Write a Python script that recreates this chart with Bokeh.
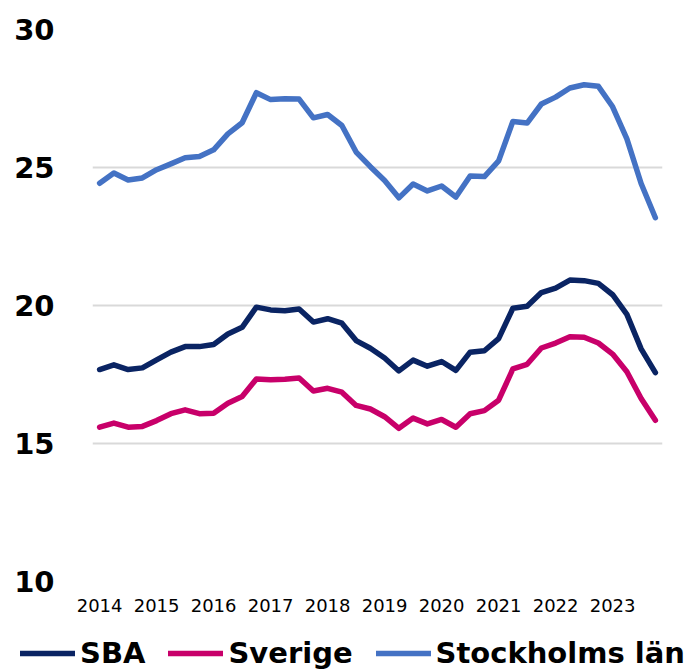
from bokeh.plotting import figure
from bokeh.models import Range1d, FixedTicker, Legend, LegendItem
from bokeh.embed import file_html
from bokeh.resources import INLINE

years = ["2014", "2015", "2016", "2017", "2018", "2019", "2020", "2021", "2022", "2023"]
quarter_index = list(range(40))

sba = [17.68, 17.85, 17.68, 17.74, 18.03, 18.31, 18.51, 18.51, 18.59, 18.97,
       19.21, 19.94, 19.84, 19.81, 19.87, 19.40, 19.52, 19.36, 18.73, 18.45,
       18.10, 17.63, 18.02, 17.80, 17.97, 17.65, 18.31, 18.36, 18.80, 19.90,
       19.97, 20.47, 20.63, 20.92, 20.90, 20.80, 20.39, 19.68, 18.43, 17.57]

sverige = [15.59, 15.74, 15.59, 15.62, 15.83, 16.08, 16.22, 16.08, 16.10, 16.46,
           16.70, 17.34, 17.31, 17.33, 17.37, 16.90, 17.00, 16.86, 16.38, 16.25,
           15.97, 15.55, 15.92, 15.71, 15.87, 15.59, 16.08, 16.19, 16.57, 17.70,
           17.87, 18.46, 18.64, 18.87, 18.85, 18.64, 18.24, 17.60, 16.63, 15.84]

stockholm = [24.43, 24.80, 24.55, 24.62, 24.92, 25.13, 25.35, 25.40, 25.64, 26.22,
             26.62, 27.71, 27.46, 27.49, 27.48, 26.80, 26.92, 26.52, 25.56, 25.03,
             24.53, 23.90, 24.40, 24.15, 24.33, 23.93, 24.69, 24.67, 25.24, 26.67,
             26.61, 27.30, 27.55, 27.88, 28.00, 27.94, 27.20, 26.04, 24.42, 23.18]

series_names = ["SBA", "Sverige", "Stockholms län"]
series_colors = ["#0A2463", "#C8006A", "#4472C4"]
y_ticks = [10, 15, 20, 25, 30]

p = figure(width=689, height=628, output_backend="svg", toolbar_location=None,
           x_range=Range1d(-0.5, 39.5), y_range=Range1d(10, 30),
           min_border_left=92, min_border_right=27, min_border_top=29, min_border_bottom=47)
p.outline_line_color = None
p.background_fill_color = "white"
p.border_fill_color = "white"

for vals, col in zip([sba, sverige, stockholm], series_colors):
    p.line(quarter_index, vals, line_color=col, line_width=5.5, line_join="round", line_cap="round")

# y axis
p.yaxis.ticker = FixedTicker(ticks=y_ticks)
p.yaxis.axis_line_color = None
p.yaxis.major_tick_line_color = None
p.yaxis.minor_tick_line_color = None
p.yaxis.major_label_text_font = "DejaVu Sans"
p.yaxis.major_label_text_font_style = "bold"
p.yaxis.major_label_text_font_size = "29px"
p.yaxis.major_label_text_color = "black"
p.yaxis.major_label_standoff = 32

# x axis
p.xaxis.ticker = FixedTicker(ticks=[i * 4 for i in range(len(years))])
p.xaxis.major_label_overrides = {i * 4: y for i, y in enumerate(years)}
p.xaxis.axis_line_color = None
p.xaxis.major_tick_line_color = None
p.xaxis.minor_tick_line_color = None
p.xaxis.major_label_text_font = "DejaVu Sans"
p.xaxis.major_label_text_font_size = "18px"
p.xaxis.major_label_text_color = "black"
p.xaxis.major_label_standoff = 11

# grid
p.xgrid.grid_line_color = None
p.ygrid.ticker = FixedTicker(ticks=y_ticks)
p.ygrid.grid_line_color = "#D9D9D9"
p.ygrid.grid_line_width = 2

# legend strip (separate root so its frame spans the full width)
lg = figure(width=689, height=42, output_backend="svg", toolbar_location=None,
            x_range=Range1d(0, 1), y_range=Range1d(0, 1),
            min_border_left=0, min_border_right=0, min_border_top=0, min_border_bottom=0)
lg.axis.visible = False
lg.grid.visible = False
lg.outline_line_color = None
items = []
for name, col in zip(series_names, series_colors):
    # proxy line outside the visible range, used only for the legend swatch
    r = lg.line([-2, -1], [-2, -1], line_color=col, line_width=5.5, line_cap="round")
    items.append(LegendItem(label=name, renderers=[r]))
legend = Legend(items=items, orientation="horizontal", location=(20, 0),
                label_text_font="DejaVu Sans", label_text_font_style="bold",
                label_text_font_size="29px", label_text_color="black",
                glyph_width=55, glyph_height=20, label_standoff=5, spacing=23,
                padding=0, margin=0, border_line_color=None, background_fill_alpha=0)
lg.add_layout(legend, "center")

open("out.html", "w").write(file_html([p, lg], INLINE))
